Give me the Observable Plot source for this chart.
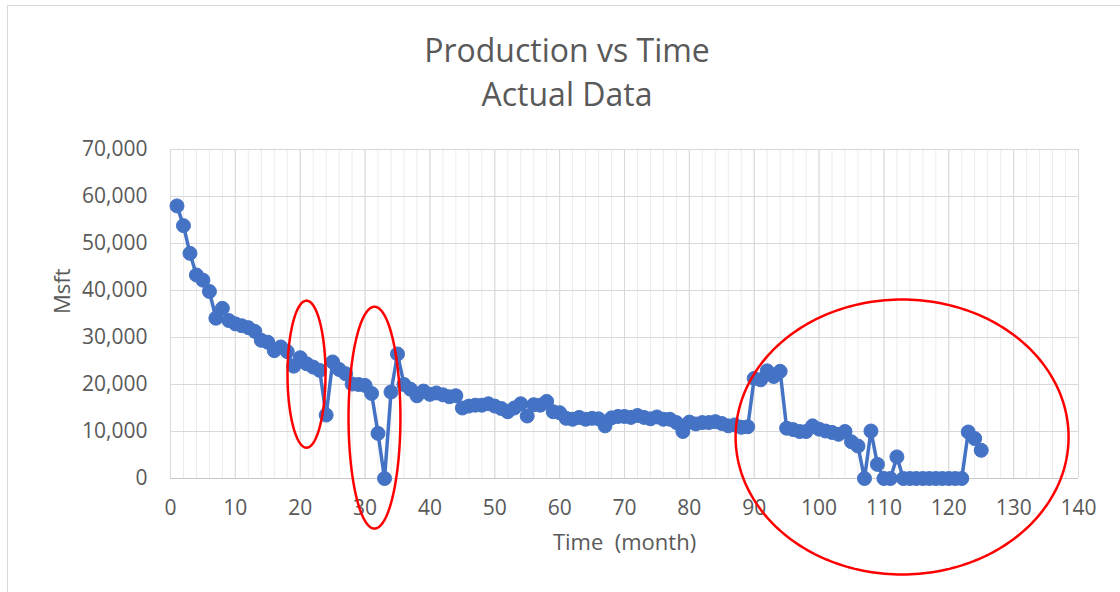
<!DOCTYPE html>
<html><head><meta charset="utf-8">
<script src="https://cdn.jsdelivr.net/npm/d3@7"></script>
<script src="https://cdn.jsdelivr.net/npm/@observablehq/plot@0.6"></script>
<style>
html,body{margin:0;padding:0;background:#fff;overflow:hidden}
#wrap{position:relative;width:1120px;height:592px;font-family:"Open Sans",sans-serif}
#frame{position:absolute;left:7px;top:5px;width:1200px;height:700px;border:1px solid #d9d9d9;box-sizing:border-box}
#title{position:absolute;left:0;top:0;width:1134px;text-align:center;color:#595959;font-size:32px;line-height:44px;padding-top:28px}
#chart{position:absolute;left:0;top:0}
</style></head><body>
<div id="wrap"><div id="frame"></div><div id="chart"></div><div id="title">Production vs Time<br>Actual Data</div></div>
<script>
// Production (Msft) per month, months 1..125
const production = [
  58000, 53800, 47900, 43300, 42200, 39800, 34100, 36200, 33600, 32900,
  32500, 32100, 31300, 29400, 29000, 27200, 28000, 27000, 23900, 25700,
  24400, 23700, 23000, 13500, 24800, 23200, 22300, 20100, 20000, 19800,
  18100, 9600, 0, 18400, 26500, 20000, 19000, 17600, 18600, 17900,
  18200, 17800, 17400, 17600, 15000, 15400, 15600, 15600, 15900, 15400,
  14900, 14200, 15000, 15900, 13300, 15700, 15600, 16400, 14200, 14000,
  12800, 12600, 13000, 12600, 12800, 12700, 11200, 12900, 13200, 13200,
  13000, 13400, 13000, 12700, 13100, 12600, 12600, 11900, 10000, 12000,
  11600, 11900, 11900, 12100, 11700, 11200, 11400, 10900, 11000, 21300,
  21000, 22900, 21700, 22800, 10700, 10400, 10000, 10000, 11200, 10500,
  10100, 9800, 9400, 10000, 7800, 6900, 0, 10100, 3000, 0,
  0, 4600, 0, 0, 0, 0, 0, 0, 0, 0,
  0, 0, 9900, 8500, 6000
];
const months = production.map((_, i) => i + 1);

const xTicks = [0, 10, 20, 30, 40, 50, 60, 70, 80, 90, 100, 110, 120, 130, 140];
const yTicks = [0, 10000, 20000, 30000, 40000, 50000, 60000, 70000];
const xMinor = d3.range(0, 141, 2);

// red annotation ovals (data units): centre x, centre y, radius x, radius y
const ovalCx = [20.97, 31.45, 112.8];
const ovalCy = [22200, 12950, 8830];
const ovalRx = [2.93, 4.0, 25.67];
const ovalRy = [15640, 23600, 29260];

const data = months.map((m, i) => ({month: m, value: production[i]}));

const ovalPts = [];
ovalCx.forEach((cx, k) => {
  for (let j = 0; j <= 240; j++) {
    const t = (j / 240) * 2 * Math.PI;
    ovalPts.push({id: k, x: cx + ovalRx[k] * Math.cos(t), y: ovalCy[k] + ovalRy[k] * Math.sin(t)});
  }
});

const blue = "#4472C4";
const chart = Plot.plot({
  width: 1120,
  height: 592,
  marginLeft: 170,
  marginRight: 42,
  marginTop: 149,
  marginBottom: 114,
  style: {fontFamily: "Open Sans, sans-serif", fontSize: "21px", color: "#595959", background: "transparent", overflow: "visible"},
  x: {domain: [0, 140], ticks: xTicks, tickSize: 0, tickPadding: 22, label: null, tickFormat: d3.format("d")},
  y: {domain: [0, 70000], ticks: yTicks, tickSize: 0, tickPadding: 23, label: null, tickFormat: d3.format(",")},
  marks: [
    Plot.ruleX(xMinor, {stroke: "#ececec", strokeWidth: 1}),
    Plot.ruleX(xTicks, {stroke: "#d9d9d9", strokeWidth: 1}),
    Plot.ruleY(yTicks, {stroke: "#d9d9d9", strokeWidth: 1}),
    Plot.ruleY([0], {stroke: "#c8c8c8", strokeWidth: 1}),
    Plot.line(data, {x: "month", y: "value", stroke: blue, strokeWidth: 3.5}),
    Plot.dot(data, {x: "month", y: "value", r: 7, fill: blue, stroke: blue, strokeWidth: 1}),
    Plot.line(ovalPts, {x: "x", y: "y", z: "id", stroke: "#ff0000", strokeWidth: 2.5, curve: "linear"}),
    Plot.text(["Time  (month)"], {frameAnchor: "bottom", dy: 71, fontSize: 22, fill: "#595959", style: "white-space:pre"}),
    Plot.text(["Msft"], {frameAnchor: "left", dx: -108, rotate: -90, fontSize: 22, fill: "#595959"})
  ]
});
document.getElementById("chart").appendChild(chart);
</script>
</body></html>
